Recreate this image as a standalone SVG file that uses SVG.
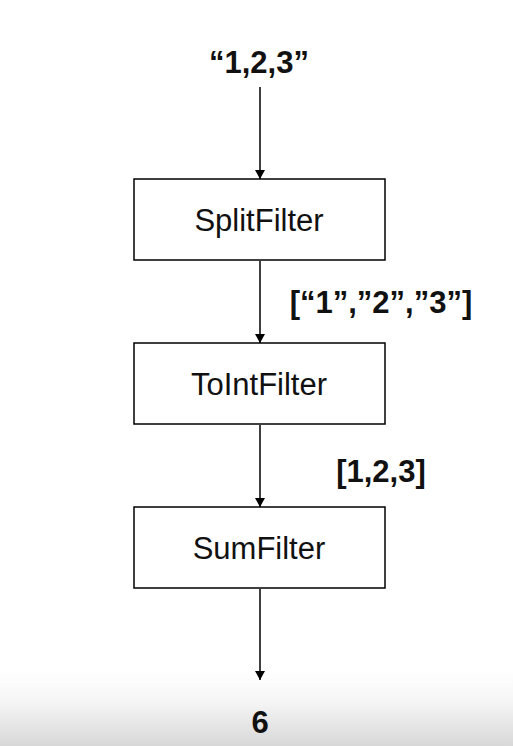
<svg xmlns="http://www.w3.org/2000/svg" width="513" height="746" viewBox="0 0 513 746">
<defs>
<linearGradient id="bg" x1="0" y1="0" x2="0" y2="1">
<stop offset="0" stop-color="#ffffff"/>
<stop offset="0.4" stop-color="#f6f6f6"/>
<stop offset="1" stop-color="#d8d8d8"/>
</linearGradient>
<marker id="ah" markerWidth="9" markerHeight="10" refX="9" refY="5" orient="auto" markerUnits="userSpaceOnUse">
<path d="M0,0 L9,5 L0,10 Z" fill="#000"/>
</marker>
<style>
.box{fill:#fff;stroke:#000;stroke-width:1.5}
.lbl{font-family:"Liberation Sans",Arial,sans-serif;font-size:31px;fill:#111;text-anchor:middle}
.b{font-weight:bold;font-size:31px}
.c{stroke:#000;stroke-width:1.5;fill:none;marker-end:url(#ah)}
</style>
</defs>
<rect x="0" y="0" width="513" height="746" fill="#fff"/>
<rect x="0" y="670" width="513" height="76" fill="url(#bg)"/>
<g id="connectors">
<line class="c" x1="260" y1="87" x2="260" y2="179"/>
<line class="c" x1="260" y1="261" x2="260" y2="343"/>
<line class="c" x1="260" y1="425" x2="260" y2="507"/>
<line class="c" x1="260" y1="589" x2="260" y2="680"/>
</g>
<g id="input"><text class="lbl b" x="259" y="73">“1,2,3”</text></g>
<g id="splitfilter">
<rect class="box" x="134" y="179" width="251" height="81"/>
<text class="lbl" x="259" y="231">SplitFilter</text>
</g>
<g id="label1"><text class="lbl b" x="381" y="313">[“1”,”2”,”3”]</text></g>
<g id="tointfilter">
<rect class="box" x="134" y="343" width="251" height="81"/>
<text class="lbl" x="259" y="395">ToIntFilter</text>
</g>
<g id="label2"><text class="lbl b" x="381" y="482">[1,2,3]</text></g>
<g id="sumfilter">
<rect class="box" x="134" y="507" width="251" height="81"/>
<text class="lbl" x="259" y="559">SumFilter</text>
</g>
<g id="output"><text class="lbl b" x="260" y="733">6</text></g>
</svg>
